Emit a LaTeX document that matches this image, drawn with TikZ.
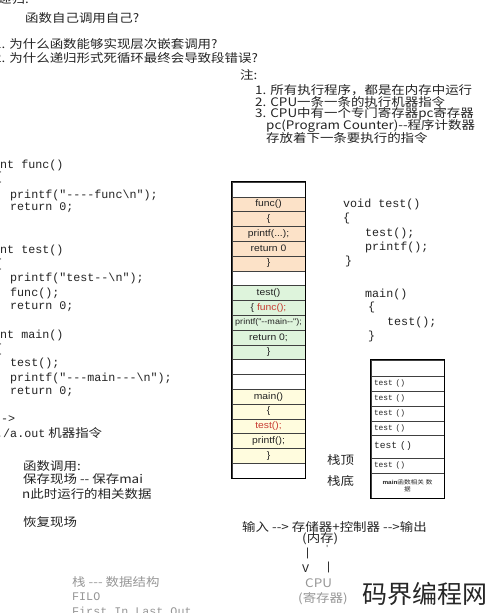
\documentclass[tikz,border=0pt]{standalone}
\usepackage{fontspec}
\setmainfont{Noto Sans CJK SC}[FakeStretch=1.14,Ligatures=TeXOff]
\newfontfamily\codefont{Liberation Mono}[Ligatures=TeXOff]
\newfontfamily\cellfont{Liberation Sans}[FakeStretch=1.1,Ligatures=TeXOff]
\newfontfamily\wmfont{Noto Sans CJK SC}
\definecolor{peach}{RGB}{252,226,200}
\definecolor{mint}{RGB}{222,244,220}
\definecolor{cream}{RGB}{255,252,222}
\definecolor{callred}{RGB}{200,60,50}
\definecolor{fade}{RGB}{150,150,150}
\definecolor{ink}{RGB}{35,35,35}
\tikzset{
  txt/.style={anchor=west, inner sep=0pt, text=ink, font=\fontsize{11.8}{13}\selectfont},
  code/.style={anchor=west, inner sep=0pt, text=ink, font=\codefont\fontsize{11.7}{13}\selectfont},
  cell/.style={draw=black!75, line width=0.6pt, minimum width=73pt, minimum height=14.8pt,
    inner sep=0pt, text=ink, font=\cellfont\fontsize{9.4}{10}\selectfont},
  rcell/.style={draw=black!75, line width=0.6pt, minimum width=73pt, inner sep=0pt,
    text width=67pt, align=left, text=ink, font=\codefont\fontsize{7.9}{9}\selectfont},
  outer/.style={draw=black, line width=1.4pt}
}
\begin{document}
\begin{tikzpicture}[x=1pt,y=-1pt]
\useasboundingbox (0,0) rectangle (490,613);
\clip (0,0) rectangle (490,613);

% top texts
\node[txt] (t0) at (-2,-1) {递归:};
\node[txt] (t1) at (25,18) {函数自己调用自己?};
\node[txt] (t2) at (-6,44) {1. 为什么函数能够实现层次嵌套调用?};
\node[txt] (t3) at (-6,58) {2. 为什么递归形式死循环最终会导致段错误?};
\node[txt] (n0) at (240,75) {注:};
\node[txt] (n1) at (255,90) {1. 所有执行程序，都是在内存中运行};
\node[txt] (n2) at (255,102) {2. CPU一条一条的执行机器指令};
\node[txt] (n3) at (255,114) {3. CPU中有一个专门寄存器pc寄存器};
\node[txt] (n4) at (266,126) {pc(Program Counter)--程序计数器};
\node[txt] (n5) at (266,138) {存放着下一条要执行的指令};

% left code
\node[code] (c1) at (-7,165) {int func()};
\node[code] (c2) at (-5,177) {\{};
\node[code] (c3) at (10,195) {printf("----func\textbackslash n");};
\node[code] (c4) at (10,208) {return 0;};
\node[code] (c5) at (-7,250) {int test()};
\node[code] (c6) at (-5,264) {\{};
\node[code] (c7) at (10,278) {printf("test--\textbackslash n");};
\node[code] (c8) at (10,293) {func();};
\node[code] (c9) at (10,307) {return 0;};
\node[code] (c10) at (-7,335) {int main()};
\node[code] (c11) at (-5,349) {\{};
\node[code] (c12) at (10,363) {test();};
\node[code] (c13) at (10,378) {printf("---main---\textbackslash n");};
\node[code] (c14) at (10,392) {return 0;};
\node[code] (c15) at (-6,419) {-->};
\node[txt] (c16) at (-4,433) {{\codefont\fontsize{11.7}{13}\selectfont ./a.out} 机器指令};

% left stack
\node[cell, fill=white] (l0) at (268.5,189.4) {};
\node[cell, fill=peach] (l1) at (268.5,204.2) {func()};
\node[cell, fill=peach] (l2) at (268.5,219.0) {\{};
\node[cell, fill=peach] (l3) at (268.5,233.8) {printf(...);};
\node[cell, fill=peach] (l4) at (268.5,248.6) {return 0};
\node[cell, fill=peach] (l5) at (268.5,263.4) {\}};
\node[cell, fill=white] (l6) at (268.5,278.2) {};
\node[cell, fill=mint] (l7) at (268.5,293.0) {test()};
\node[cell, fill=mint] (l8) at (268.5,307.8) {\{ \textcolor{callred}{func();}};
\node[cell, fill=mint, font=\cellfont\fontsize{8.2}{9}\selectfont] (l9) at (268.5,322.6) {printf("--main--");};
\node[cell, fill=mint] (l10) at (268.5,337.4) {return 0;};
\node[cell, fill=mint] (l11) at (268.5,352.2) {\}};
\node[cell, fill=white] (l12) at (268.5,367.0) {};
\node[cell, fill=white] (l13) at (268.5,381.8) {};
\node[cell, fill=cream] (l14) at (268.5,396.6) {main()};
\node[cell, fill=cream] (l15) at (268.5,411.4) {\{};
\node[cell, fill=cream, text=callred] (l16) at (268.5,426.2) {test();};
\node[cell, fill=cream] (l17) at (268.5,441.0) {printf();};
\node[cell, fill=cream] (l18) at (268.5,455.8) {\}};
\node[cell, fill=white] (l19) at (268.5,470.6) {};
\draw[outer] (l0.north west) rectangle (l19.south east);

% right code
\node[code] (d1) at (343,204) {void test()};
\node[code] (d2) at (343,218) {\{};
\node[code] (d3) at (365,233) {test();};
\node[code] (d4) at (365,247) {printf();};
\node[code] (d5) at (345,261) {\}};
\node[code] (d6) at (365,294) {main()};
\node[code] (d7) at (368,307) {\{};
\node[code] (d8) at (387,322) {test();};
\node[code] (d9) at (368,336) {\}};

% right stack
\node[rcell, minimum height=16pt] (r0) at (407.5,368) {};
\node[rcell, minimum height=15pt] (r1) at (407.5,383.5) {test ()};
\node[rcell, minimum height=15pt] (r2) at (407.5,398.5) {test ()};
\node[rcell, minimum height=15pt] (r3) at (407.5,413.5) {test ()};
\node[rcell, minimum height=14pt] (r4) at (407.5,428) {test ()};
\node[rcell, minimum height=23pt, font=\codefont\fontsize{9.6}{10}\selectfont] (r5) at (407.5,446.5) {test ()};
\node[rcell, minimum height=15pt] (r6) at (407.5,465.5) {test ()};
\node[rcell, minimum height=25pt, align=center, font=\fontsize{5.8}{7}\selectfont] (r7) at (407.5,485.5) {{\cellfont\bfseries main}函数相关 数\\据};
\draw[outer] (r0.north west) rectangle (r7.south east);
\node[txt] (top) at (327,460) {栈顶};
\node[txt] (bot) at (327,481) {栈底};

% bottom left
\node[txt] (b1) at (23,466) {函数调用:};
\node[txt] (b2) at (23,479) {保存现场 -- 保存mai};
\node[txt] (b3) at (22,494) {n此时运行的相关数据};
\node[txt] (b4) at (23,522) {恢复现场};
\node[txt, text=fade] (s1) at (72,582) {栈 --- 数据结构};
\node[code, text=fade] (s2) at (72,597) {FILO};
\node[code, text=fade] (s3) at (72,611) {First In Last Out};

% bottom right
\node[txt] (io) at (242,527) {输入 --> 存储器+控制器 -->输出};
\node[txt] (mem) at (302,539) {(内存)};
\node[code] (v1) at (304,553) {|};
\node[code, font=\codefont\fontsize{7}{8}\selectfont] (u1) at (325,548) {'};
\node[code] (v2) at (302,569) {V};
\node[code] (u2) at (325,567) {|};
\node[txt, text=fade] (cpu) at (305,583) {CPU};
\node[txt, text=fade] (reg) at (298,599) {(寄存器)};
\node[anchor=west, inner sep=0pt, text=black!85, font=\wmfont\fontsize{25}{26}\selectfont] (wm) at (362,594) {码界编程网};
\end{tikzpicture}
\end{document}
